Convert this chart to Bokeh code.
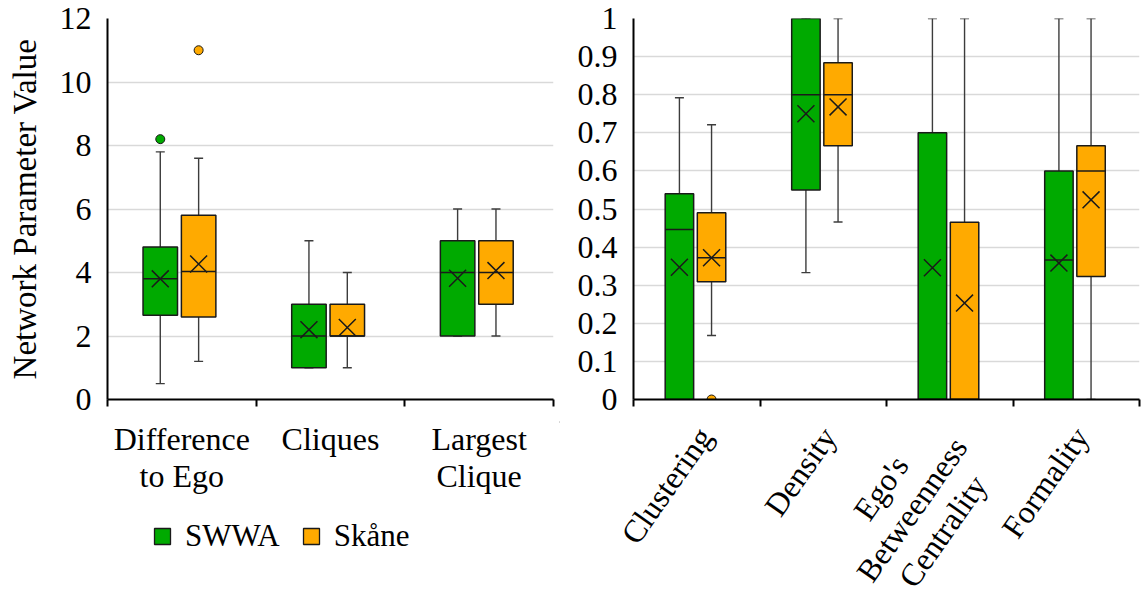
import math

from bokeh.embed import file_html
from bokeh.layouts import column, row
from bokeh.models import ColumnDataSource, FixedTicker, Legend, LegendItem, Range1d
from bokeh.plotting import figure
from bokeh.resources import INLINE

# ---- network parameters with counts (left panel) ----
left_categories = ["Difference\nto Ego", "Cliques", "Largest\nClique"]
left_yticks = [0, 2, 4, 6, 8, 10, 12]

swwa_left_min = [0.5, 1, 2]
swwa_left_q1 = [2.65, 1, 2]
swwa_left_median = [3.8, 2, 4]
swwa_left_q3 = [4.8, 3, 5]
swwa_left_max = [7.8, 5, 6]
swwa_left_mean = [3.8, 2.2, 3.82]
swwa_left_outlier_cat = [0]
swwa_left_outlier_val = [8.2]

skane_left_min = [1.2, 1, 2]
skane_left_q1 = [2.6, 2, 3]
skane_left_median = [4.03, 2, 4]
skane_left_q3 = [5.8, 3, 5]
skane_left_max = [7.6, 4, 6]
skane_left_mean = [4.27, 2.27, 4.06]
skane_left_outlier_cat = [0]
skane_left_outlier_val = [11]

# ---- normalised network parameters (right panel) ----
right_categories = ["Clustering", "Density", "Ego's\nBetweenness\nCentrality", "Formality"]
right_yticks = [0, 0.1, 0.2, 0.3, 0.4, 0.5, 0.6, 0.7, 0.8, 0.9, 1]

swwa_right_min = [0, 0.333, 0, 0]
swwa_right_q1 = [0, 0.55, 0, 0]
swwa_right_median = [0.446, 0.8, 0, 0.366]
swwa_right_q3 = [0.54, 1.0, 0.70, 0.6]
swwa_right_max = [0.792, 1.0, 1.0, 1.0]
swwa_right_mean = [0.347, 0.75, 0.346, 0.358]

skane_right_min = [0.168, 0.466, 0, 0]
skane_right_q1 = [0.309, 0.666, 0, 0.323]
skane_right_median = [0.372, 0.8, 0, 0.6]
skane_right_q3 = [0.49, 0.884, 0.465, 0.666]
skane_right_max = [0.721, 1.0, 1.0, 1.0]
skane_right_mean = [0.372, 0.768, 0.253, 0.524]
skane_right_outlier_cat = [0]
skane_right_outlier_val = [0]

series_names = ["SWWA", "Skåne"]

# ---- styling ----
GREEN = "#00AA00"
ORANGE = "#FFAA00"
EDGE = "#1a1a1a"
WHISKER = "#3c3c3c"
GRID = "#d9d9d9"
FONT = "Liberation Serif"
TICK_SIZE = "32px"
CAT_SIZE = "32px"

# ---- layout (pixels) ----
TOP = 18            # space above the plot frames
FRAME_H = 381       # height of the plot frames
PLOT_H = 421        # plot height: frame + room for ticks and the lowest tick label
FOOT_H = 597 - PLOT_H   # strip under each plot holding category names / legend
LEFT_W, LEFT_BL, LEFT_BR = 560, 107, 7
RIGHT_W, RIGHT_BL, RIGHT_BR = 582, 73, 3

CAT_TOP = 420       # page y of the top of the horizontal category names
LEGEND_POS = (152, 597 - 554)   # legend bottom-left, pixels from strip's bottom-left
ROT_ANGLE = math.radians(55)
# (x offset from category centre, page y) of each rotated text block's centre
ROT_POS = [(-30, 485), (-23, 471), (-38, 509), (-31, 482)]


def draw_series(p, n, offset, width, lo, q1, med, q3, hi, mean, color):
    xs = [i + 0.5 + offset for i in range(n)]
    src = ColumnDataSource(dict(
        x=xs, xl=[x - width / 2 for x in xs], xr=[x + width / 2 for x in xs],
        lo=lo, q1=q1, med=med, q3=q3, hi=hi, mean=mean,
    ))
    p.segment(x0="x", y0="lo", x1="x", y1="hi", source=src,
              line_color=WHISKER, line_width=1.4)
    p.scatter(x="x", y="hi", source=src, marker="dash", size=9,
              line_color=WHISKER, line_width=1.4)
    p.scatter(x="x", y="lo", source=src, marker="dash", size=9,
              line_color=WHISKER, line_width=1.4)
    box = p.vbar(x="x", width=width, bottom="q1", top="q3", source=src,
                 fill_color=color, line_color=EDGE, line_width=1.5)
    p.segment(x0="xl", y0="med", x1="xr", y1="med", source=src,
              line_color=EDGE, line_width=1.5)
    p.scatter(x="x", y="mean", source=src, marker="x", size=24,
              line_color=EDGE, line_width=1.5)
    return box


def draw_outliers(p, cats, vals, offset, color):
    p.scatter(x=[c + 0.5 + offset for c in cats], y=vals, marker="circle",
              size=9, fill_color=color, line_color=EDGE, line_width=1)


def make_plot(width, bl, br, n, y_end, yticks):
    p = figure(width=width, height=PLOT_H, x_range=Range1d(0, n), y_range=Range1d(0, y_end),
               output_backend="svg", toolbar_location=None,
               min_border_left=bl, min_border_right=br,
               min_border_top=TOP, min_border_bottom=PLOT_H - TOP - FRAME_H)
    p.outline_line_color = None
    p.xgrid.grid_line_color = None

    yt = FixedTicker(ticks=yticks)
    p.yaxis.ticker = yt
    p.ygrid.ticker = yt
    p.ygrid.grid_line_color = GRID
    p.ygrid.grid_line_width = 1.6
    p.yaxis.major_label_overrides = {t: f"{t:g}" for t in yticks}
    p.yaxis.major_tick_line_color = None
    p.yaxis.minor_tick_line_color = None
    p.yaxis.major_tick_out = 0
    p.yaxis.major_label_standoff = 16
    p.yaxis.axis_line_width = 2
    p.yaxis.axis_line_color = "black"
    p.yaxis.major_label_text_font = FONT
    p.yaxis.major_label_text_font_size = TICK_SIZE
    p.yaxis.major_label_text_color = "black"

    # ticks between the categories; names are written in the strip below
    centers = [i + 0.5 for i in range(n)]
    xa = p.xaxis[0]
    xa.ticker = FixedTicker(ticks=centers, minor_ticks=list(range(n + 1)))
    xa.major_label_overrides = {c: "" for c in centers}
    xa.major_label_text_font_size = "0px"
    xa.major_label_standoff = 0
    xa.major_tick_line_color = None
    xa.major_tick_out = 0
    xa.major_tick_in = 0
    xa.minor_tick_out = 7
    xa.minor_tick_in = 0
    xa.minor_tick_line_color = "black"
    xa.minor_tick_line_width = 2
    xa.axis_line_width = 2
    xa.axis_line_color = "black"
    return p


def make_strip(width, bl, br, n):
    # same data-to-pixel mapping as the plot above it, spanning the full width;
    # y is measured in page pixels from the top
    frame_w = width - bl - br
    ppu = frame_w / n
    s = figure(width=width, height=FOOT_H,
               x_range=Range1d(-bl / ppu, n + br / ppu),
               y_range=Range1d(PLOT_H + FOOT_H, PLOT_H),
               output_backend="svg", toolbar_location=None,
               x_axis_location=None, y_axis_location=None,
               min_border_left=0, min_border_right=0, min_border_top=0, min_border_bottom=0)
    s.outline_line_color = None
    s.grid.visible = False
    return s


# ---- left panel ----
nl = len(left_categories)
left = make_plot(LEFT_W, LEFT_BL, LEFT_BR, nl, 12, left_yticks)
left.yaxis.axis_label = "Network Parameter Value"
left.yaxis.axis_label_text_font = FONT
left.yaxis.axis_label_text_font_size = "33px"
left.yaxis.axis_label_text_font_style = "normal"
left.yaxis.axis_label_text_color = "black"
left.yaxis.axis_label_standoff = 14

g_box = draw_series(left, nl, -0.145, 0.232, swwa_left_min, swwa_left_q1, swwa_left_median,
                    swwa_left_q3, swwa_left_max, swwa_left_mean, GREEN)
o_box = draw_series(left, nl, 0.113, 0.232, skane_left_min, skane_left_q1, skane_left_median,
                    skane_left_q3, skane_left_max, skane_left_mean, ORANGE)
draw_outliers(left, swwa_left_outlier_cat, swwa_left_outlier_val, -0.145, GREEN)
draw_outliers(left, skane_left_outlier_cat, skane_left_outlier_val, 0.113, ORANGE)

left_strip = make_strip(LEFT_W, LEFT_BL, LEFT_BR, nl)
left_strip.text(x=[i + 0.5 for i in range(nl)], y=[CAT_TOP] * nl, text=left_categories,
                text_align="center", text_baseline="top", text_line_height=1.05,
                text_font=FONT, text_font_size=CAT_SIZE, text_color="black")

# legend swatches: one bar per series, parked beyond the strip's visible x span
swatches = []
for color in (GREEN, ORANGE):
    swatches.append(left_strip.vbar(x=[nl + 10], top=[PLOT_H], bottom=[PLOT_H + 1], width=0.1,
                                    fill_color=color, line_color=EDGE, line_width=1.3))
legend = Legend(
    items=[LegendItem(label=name, renderers=[r]) for name, r in zip(series_names, swatches)],
    orientation="horizontal", location=LEGEND_POS,
    glyph_width=20, glyph_height=20, label_standoff=13, spacing=21,
    padding=0, margin=0, border_line_color=None, background_fill_alpha=0,
    label_text_font=FONT, label_text_font_size="31px", label_text_color="black",
)
left_strip.add_layout(legend)

# ---- right panel ----
nr = len(right_categories)
right = make_plot(RIGHT_W, RIGHT_BL, RIGHT_BR, nr, 1, right_yticks)

draw_series(right, nr, -0.137, 0.225, swwa_right_min, swwa_right_q1, swwa_right_median,
            swwa_right_q3, swwa_right_max, swwa_right_mean, GREEN)
draw_series(right, nr, 0.117, 0.225, skane_right_min, skane_right_q1, skane_right_median,
            skane_right_q3, skane_right_max, skane_right_mean, ORANGE)
draw_outliers(right, skane_right_outlier_cat, skane_right_outlier_val, 0.117, ORANGE)

right_strip = make_strip(RIGHT_W, RIGHT_BL, RIGHT_BR, nr)
right_strip.text(x=[i + 0.5 for i in range(nr)], y=[pos[1] for pos in ROT_POS],
                 x_offset=[pos[0] for pos in ROT_POS], text=right_categories,
                 angle=ROT_ANGLE, text_align="center", text_baseline="middle",
                 text_line_height=1.05,
                 text_font=FONT, text_font_size=CAT_SIZE, text_color="black")

layout = column(row(left, right), row(left_strip, right_strip))
open("out.html", "w").write(file_html(layout, INLINE))
